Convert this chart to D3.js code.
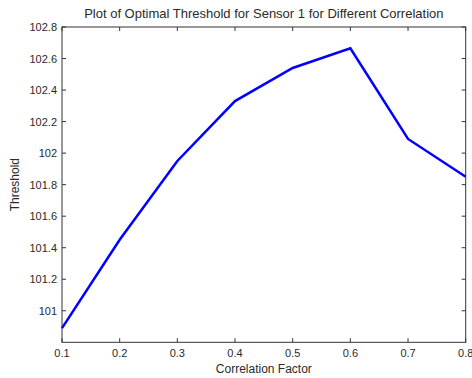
<!DOCTYPE html>
<html><head><meta charset="utf-8">
<script src="https://cdn.jsdelivr.net/npm/d3@7/dist/d3.min.js"></script>
<style>
html,body{margin:0;padding:0;background:#fff;}
svg{display:block;}
text{font-family:"Liberation Sans",Arial,sans-serif;}
</style></head>
<body>
<svg id="chart" width="472" height="378"></svg>
<script>
const correlation = [0.1, 0.2, 0.3, 0.4, 0.5, 0.6, 0.7, 0.8];
const threshold = [100.89, 101.45, 101.95, 102.33, 102.54, 102.665, 102.09, 101.85];
const xTicks = [0.1, 0.2, 0.3, 0.4, 0.5, 0.6, 0.7, 0.8];
const yTicks = [101, 101.2, 101.4, 101.6, 101.8, 102, 102.2, 102.4, 102.6, 102.8];
const titleText = "Plot of Optimal Threshold for Sensor 1 for Different Correlation";
const xLabel = "Correlation Factor";
const yLabel = "Threshold";

const svg = d3.select("#chart");
const L = 62, R = 465.7, T = 27, B = 342.3;
const x = d3.scaleLinear().domain([0.1, 0.8]).range([L, R]);
const y = d3.scaleLinear().domain([100.8, 102.8]).range([B, T]);
const axisColor = "#333";
const textColor = "#2a2a2a";
const fs = 11;

// box
svg.append("rect").attr("x", L).attr("y", T).attr("width", R - L).attr("height", B - T)
  .attr("fill", "none").attr("stroke", axisColor).attr("stroke-width", 1);

const tl = 4;
const g = svg.append("g");
xTicks.forEach(v => {
  const px = x(v);
  g.append("line").attr("x1", px).attr("x2", px).attr("y1", B).attr("y2", B - tl).attr("stroke", axisColor);
  g.append("line").attr("x1", px).attr("x2", px).attr("y1", T).attr("y2", T + tl).attr("stroke", axisColor);
  g.append("text").attr("x", px).attr("y", 357).attr("text-anchor", "middle")
    .attr("font-size", fs).attr("fill", textColor).text(d3.format("")(v));
});
yTicks.forEach(v => {
  const py = y(v);
  g.append("line").attr("x1", L).attr("x2", L + tl).attr("y1", py).attr("y2", py).attr("stroke", axisColor);
  g.append("line").attr("x1", R).attr("x2", R - tl).attr("y1", py).attr("y2", py).attr("stroke", axisColor);
  g.append("text").attr("x", 57).attr("y", py + 4).attr("text-anchor", "end")
    .attr("font-size", fs).attr("fill", textColor).text(+v.toFixed(1));
});

const line = d3.line().x((d, i) => x(correlation[i])).y(d => y(d));
svg.append("path").datum(threshold).attr("d", line).attr("fill", "none")
  .attr("stroke", "#0000ff").attr("stroke-width", 2.5).attr("stroke-linejoin", "miter");

svg.append("text").attr("x", (L + R) / 2).attr("y", 18).attr("text-anchor", "middle")
  .attr("font-size", 13).attr("fill", textColor).text(titleText);
svg.append("text").attr("x", (L + R) / 2).attr("y", 373).attr("text-anchor", "middle")
  .attr("font-size", 12).attr("fill", textColor).text(xLabel);
svg.append("text").attr("transform", `translate(19,${(T + B) / 2}) rotate(-90)`)
  .attr("text-anchor", "middle").attr("font-size", 12).attr("fill", textColor).text(yLabel);
</script>
</body></html>
